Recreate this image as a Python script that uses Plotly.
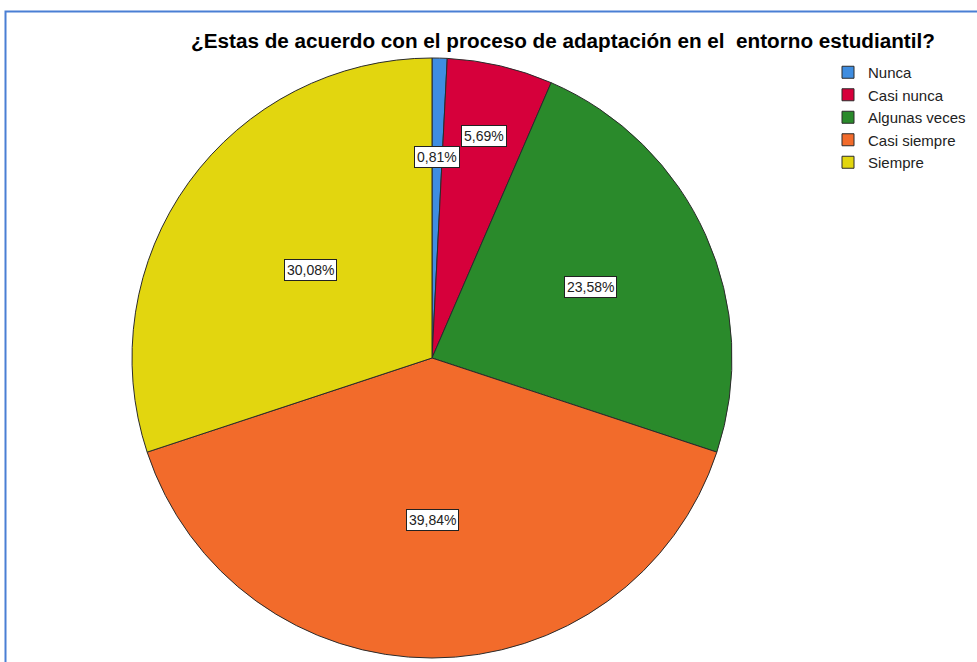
import math
import plotly.graph_objects as go

# Data
categories = ["Nunca", "Casi nunca", "Algunas veces", "Casi siempre", "Siempre"]
percentages = [0.81, 5.69, 23.58, 39.84, 30.08]
slice_colors = ["#3f8de0", "#d6003b", "#2a8a2b", "#f26b2b", "#e2d60f"]

title_text = "¿Estas de acuerdo con el proceso de adaptación en el  entorno estudiantil?"

W, H = 977, 662
# pie placement (pixels): center and radius
cx, cy, rad = 432, 358, 300
# where the percentage boxes sit, as a fraction of the radius
label_r = [0.67, 0.76, 0.58, 0.54, 0.50]

fig = go.Figure()

fig.add_trace(go.Pie(
    labels=categories,
    values=percentages,
    sort=False,
    direction="clockwise",
    rotation=0,
    marker=dict(colors=slice_colors, line=dict(color="#2b2b2b", width=1)),
    textinfo="none",
    hoverinfo="label+percent",
    domain=dict(x=[(cx - rad) / W, (cx + rad) / W],
                y=[1 - (cy + rad) / H, 1 - (cy - rad) / H]),
))

# percentage boxes at slice mid-angles
total = sum(percentages)
cum = 0
for val, fr in zip(percentages, label_r):
    mid = (cum + val / 2) / total * 2 * math.pi
    cum += val
    px = cx + fr * rad * math.sin(mid)
    py = cy - fr * rad * math.cos(mid)
    fig.add_annotation(
        x=px / W, y=1 - py / H, xref="paper", yref="paper",
        xanchor="center", yanchor="middle",
        text=f"{val:.2f}%".replace(".", ","),
        showarrow=False,
        font=dict(family="Liberation Sans, Arial", size=14, color="#222"),
        bgcolor="white", bordercolor="#222", borderwidth=1, borderpad=2,
    )

# frame around the figure (left/top visible)
fig.add_shape(type="rect", xref="paper", yref="paper",
              x0=5.5 / W, x1=1.05, y0=-0.05, y1=1 - 11.5 / H,
              line=dict(color="#4a7fd4", width=2), layer="below")

fig.update_layout(
    width=W, height=H,
    margin=dict(l=0, r=0, t=0, b=0),
    paper_bgcolor="white",
    plot_bgcolor="white",
    title=dict(text=title_text, x=563 / W, xanchor="center",
               y=1 - 41 / H, yanchor="middle",
               font=dict(family="Liberation Sans, Arial", size=20.7, color="black", weight="bold")),
    legend=dict(x=828 / W, y=1 - 56 / H, xanchor="left", yanchor="top",
                font=dict(family="Liberation Sans, Arial", size=15, color="#222"),
                itemwidth=30, tracegroupgap=0, bgcolor="rgba(0,0,0,0)"),
    showlegend=True,
)

fig.write_html("out.html", config={"displayModeBar": False},
               post_script="document.body.style.margin='0';")
